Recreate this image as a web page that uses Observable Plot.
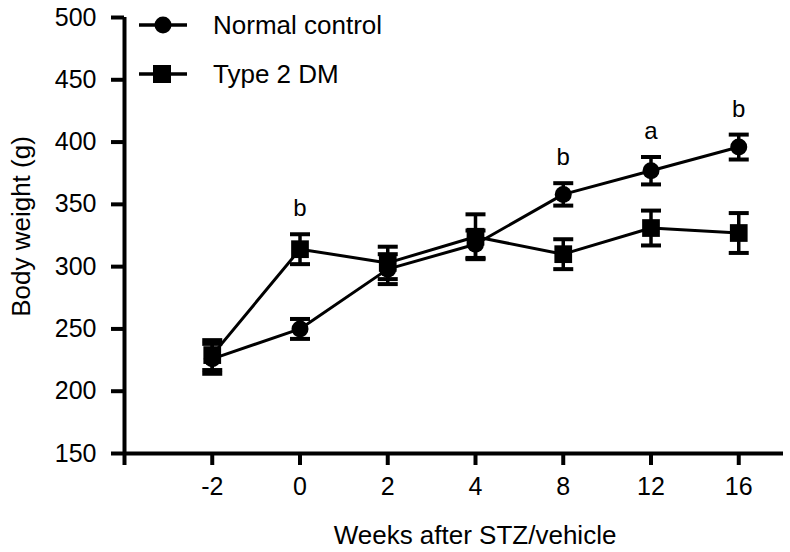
<!DOCTYPE html>
<html>
<head>
<meta charset="utf-8">
<script src="https://cdn.jsdelivr.net/npm/d3@7"></script>
<script src="https://cdn.jsdelivr.net/npm/@observablehq/plot@0.6"></script>
<style>
  html, body { margin: 0; padding: 0; background: #fff; }
  #wrap { position: relative; width: 790px; height: 552px; font-family: "Liberation Sans", Arial, sans-serif; }
  #legend { position: absolute; left: 0; top: 0; pointer-events: none; }
</style>
</head>
<body>
<div id="wrap"></div>
<script>
// ---- Data ----
const weeks = ["-2", "0", "2", "4", "8", "12", "16"];
const controlMean = [226, 250, 298, 318, 358, 377, 396];
const controlSem  = [12, 8, 12, 11, 9, 11, 10];
const dmMean      = [229, 314, 303, 324, 310, 331, 327];
const dmSem       = [12, 12, 13, 18, 12, 14, 16];
const sigLetters  = ["", "b", "", "", "b", "a", "b"];
const yTicks = [150, 200, 250, 300, 350, 400, 450, 500];
const seriesNames = ["Normal control", "Type 2 DM"];
const xTitle = "Weeks after STZ/vehicle";
const yTitle = "Body weight (g)";

// ---- Build table ----
const rows = [];
weeks.forEach((w, i) => {
  rows.push({i, week: w, series: seriesNames[0], mean: controlMean[i], sem: controlSem[i]});
  rows.push({i, week: w, series: seriesNames[1], mean: dmMean[i], sem: dmSem[i]});
});
const control = rows.filter(d => d.series === seriesNames[0]);
const dm = rows.filter(d => d.series === seriesNames[1]);
const annot = weeks.map((w, i) => ({
  i, letter: sigLetters[i],
  top: Math.max(controlMean[i] + controlSem[i], dmMean[i] + dmSem[i])
})).filter(d => d.letter);

const capSymbol = {
  draw(context, size) {
    const r = Math.sqrt(size / Math.PI);
    context.moveTo(-r, 0);
    context.lineTo(r, 0);
  }
};

const chart = Plot.plot({
  width: 790,
  height: 552,
  marginLeft: 124,
  marginRight: 7,
  marginTop: 17,
  marginBottom: 99,
  style: {fontFamily: "Liberation Sans, Arial, sans-serif", fontSize: "25px", color: "#000", background: "#fff"},
  x: {type: "linear", domain: [-1, 6.51]},
  y: {domain: [150, 500]},
  marks: [
    // axis lines
    Plot.ruleX([-1], {stroke: "#000", strokeWidth: 4}),
    Plot.ruleY([150], {stroke: "#000", strokeWidth: 4}),
    Plot.axisX({
      ticks: [-1, 0, 1, 2, 3, 4, 5, 6],
      tickFormat: i => (i >= 0 ? weeks[i] : ""),
      tickSize: 12, tickPadding: 12, strokeWidth: 4,
      fontSize: 25,
      label: null
    }),
    Plot.axisY({
      ticks: yTicks,
      tickSize: 13, tickPadding: 15, strokeWidth: 4,
      fontSize: 25,
      label: null
    }),
    // axis titles
    Plot.text([xTitle], {frameAnchor: "bottom", dx: 21, dy: 82, lineAnchor: "middle", fontSize: 26, fill: "#000"}),
    Plot.text([yTitle], {frameAnchor: "left", textAnchor: "middle", dx: -103, dy: -9, rotate: -90, lineAnchor: "middle", fontSize: 26, fill: "#000"}),
    // connecting lines
    Plot.line(control, {x: "i", y: "mean", stroke: "#000", strokeWidth: 3}),
    Plot.line(dm, {x: "i", y: "mean", stroke: "#000", strokeWidth: 3}),
    // error bars
    Plot.ruleX(rows, {x: "i", y1: d => d.mean - d.sem, y2: d => d.mean + d.sem, stroke: "#000", strokeWidth: 3.5}),
    Plot.dot(rows, {x: "i", y: d => d.mean + d.sem, symbol: capSymbol, r: 10, stroke: "#000", fill: "none", strokeWidth: 4}),
    Plot.dot(rows, {x: "i", y: d => d.mean - d.sem, symbol: capSymbol, r: 10, stroke: "#000", fill: "none", strokeWidth: 4}),
    // markers
    Plot.dot(dm, {x: "i", y: "mean", symbol: "square", r: 10, fill: "#000", stroke: "none"}),
    Plot.dot(control, {x: "i", y: "mean", symbol: "circle", r: 8.5, fill: "#000", stroke: "none"}),
    // significance letters
    Plot.text(annot, {x: "i", y: "top", text: "letter", lineAnchor: "bottom", dy: -18, fontSize: 24, fill: "#000"})
  ]
});

const wrap = document.getElementById("wrap");
wrap.appendChild(chart);

// Legend overlay (inside plot area, top-left)
const ns = "http://www.w3.org/2000/svg";
const leg = document.createElementNS(ns, "svg");
leg.setAttribute("id", "legend");
leg.setAttribute("width", "420");
leg.setAttribute("height", "110");
const items = [
  {name: seriesNames[0], sym: "circle", cy: 25},
  {name: seriesNames[1], sym: "square", cy: 74}
];
items.forEach(it => {
  const ln = document.createElementNS(ns, "line");
  ln.setAttribute("x1", 139); ln.setAttribute("x2", 187);
  ln.setAttribute("y1", it.cy); ln.setAttribute("y2", it.cy);
  ln.setAttribute("stroke", "#000"); ln.setAttribute("stroke-width", 3.5);
  leg.appendChild(ln);
  if (it.sym === "circle") {
    const c = document.createElementNS(ns, "circle");
    c.setAttribute("cx", 163); c.setAttribute("cy", it.cy); c.setAttribute("r", 8.5);
    c.setAttribute("fill", "#000");
    leg.appendChild(c);
  } else {
    const r = document.createElementNS(ns, "rect");
    r.setAttribute("x", 153); r.setAttribute("y", it.cy - 9);
    r.setAttribute("width", 18); r.setAttribute("height", 18);
    r.setAttribute("fill", "#000");
    leg.appendChild(r);
  }
  const t = document.createElementNS(ns, "text");
  t.setAttribute("x", 213); t.setAttribute("y", it.cy + 9);
  t.setAttribute("font-size", "26");
  t.setAttribute("font-family", "Liberation Sans, Arial, sans-serif");
  t.setAttribute("fill", "#000");
  t.textContent = it.name;
  leg.appendChild(t);
});
wrap.appendChild(leg);
</script>
</body>
</html>
